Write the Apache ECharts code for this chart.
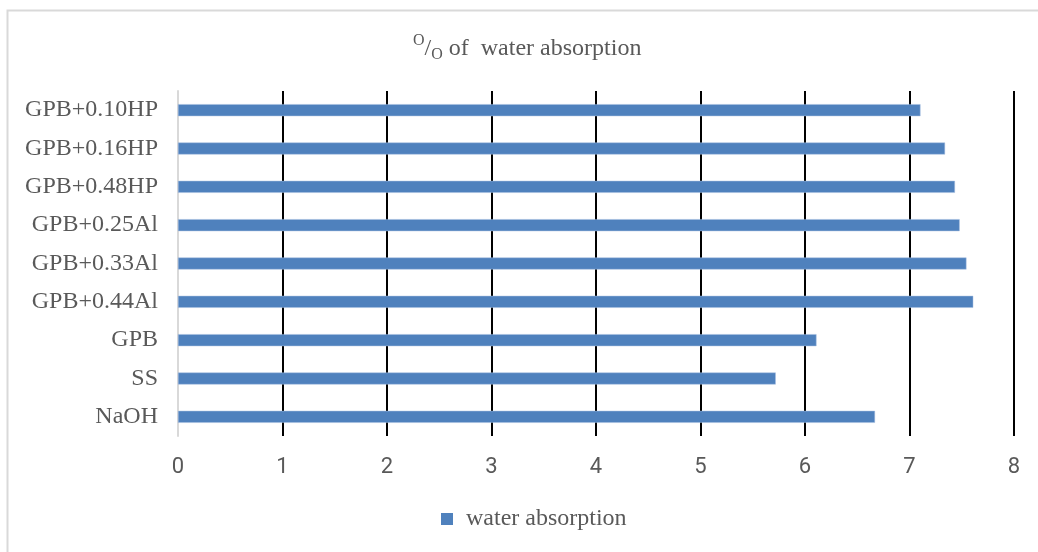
<!DOCTYPE html>
<html>
<head>
<meta charset="utf-8">
<script src="https://cdn.jsdelivr.net/npm/echarts@6/dist/echarts.min.js"></script>
<style>html,body{margin:0;padding:0;background:#fff;}#chart{width:1038px;height:552px;}</style>
</head>
<body>
<div id="chart"></div>
<script>
const categories = ['NaOH', 'SS', 'GPB', 'GPB+0.44Al', 'GPB+0.33Al', 'GPB+0.25Al', 'GPB+0.48HP', 'GPB+0.16HP', 'GPB+0.10HP'];
const waterAbsorption = [6.67, 5.72, 6.11, 7.61, 7.545, 7.48, 7.435, 7.34, 7.105];
const seriesName = 'water absorption';
const xTicks = [0, 1, 2, 3, 4, 5, 6, 7, 8];

const chart = echarts.init(document.getElementById('chart'), null, {renderer: 'canvas'});
chart.setOption({
  animation: false,
  backgroundColor: '#fff',
  graphic: [{
    type: 'rect', silent: true, z: -1,
    shape: {x: 7.5, y: 10.5, width: 1200, height: 700},
    style: {fill: 'none', stroke: '#d9d9d9', lineWidth: 2}
  }],
  title: {
    text: '{sup|O}{n|/}{sub|O}{n| of  water absorption}',
    left: 408, top: 28,
    textStyle: {
      fontWeight: 'normal',
      rich: {
        n: {fontFamily: 'Liberation Serif', fontSize: 24, fontWeight: 'normal', color: '#595959'},
        sup: {fontFamily: 'Liberation Serif', fontSize: 16, fontWeight: 'normal', color: '#595959', padding: [0, 0, 16, 0]},
        sub: {fontFamily: 'Liberation Serif', fontSize: 16, fontWeight: 'normal', color: '#595959', padding: [12, 0, 0, 0]}
      }
    }
  },
  legend: {
    data: [seriesName],
    bottom: 16, left: 436,
    icon: 'rect', itemWidth: 12, itemHeight: 12, itemGap: 10,
    itemStyle: {color: '#4f81bd', borderWidth: 0},
    textStyle: {fontFamily: 'Liberation Serif', fontSize: 24, color: '#595959', padding: [0, 0, 0, 8]}
  },
  grid: {left: 178, right: 24, top: 91, height: 345, containLabel: false},
  xAxis: {
    type: 'value', min: 0, max: 8, interval: 1,
    axisLine: {show: false}, axisTick: {show: false},
    axisLabel: {fontFamily: 'Roboto', fontSize: 22, color: '#595959', margin: 20,
      formatter: v => xTicks.includes(v) ? String(v) : ''},
    splitLine: {show: true, lineStyle: {color: '#000', width: 2}}
  },
  yAxis: {
    type: 'category', data: categories,
    axisLine: {show: true, lineStyle: {color: '#d9d9d9', width: 2}},
    axisTick: {show: false},
    axisLabel: {fontFamily: 'Liberation Serif', fontSize: 24, color: '#595959', margin: 20}
  },
  series: [{
    name: seriesName, type: 'bar', data: waterAbsorption,
    barWidth: 12, z: 3,
    itemStyle: {color: '#4f81bd', borderColor: '#a7bfe0', borderWidth: 0.5}
  }]
});
</script>
</body>
</html>
